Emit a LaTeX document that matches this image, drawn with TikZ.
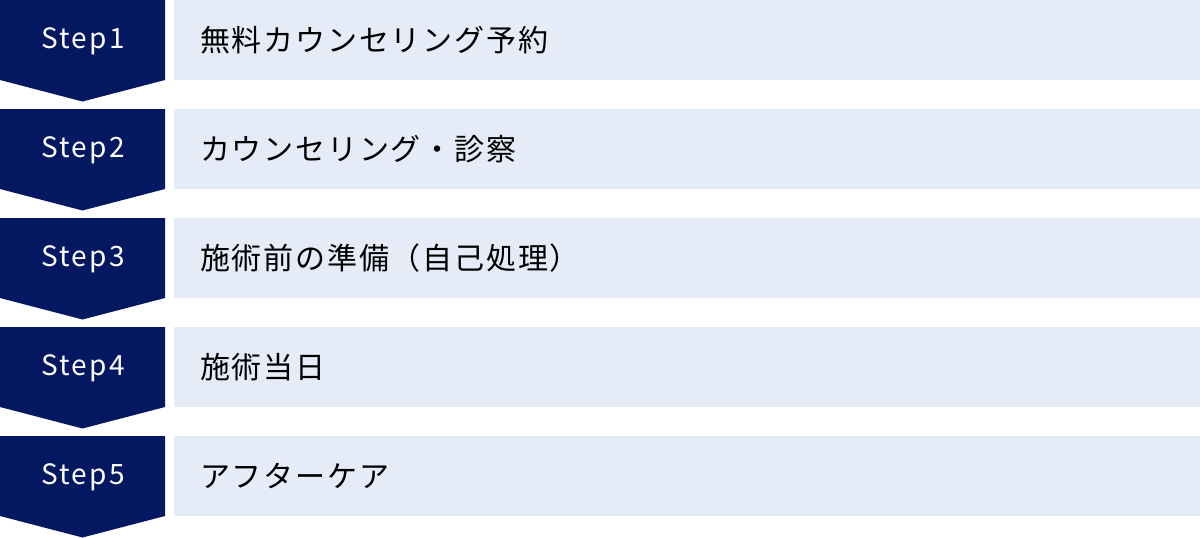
\documentclass[tikz,border=0pt]{standalone}
\usepackage{fontspec}
\newfontfamily\cjkstep[LetterSpace=8]{Noto Sans CJK JP}
\newfontfamily\cjktext[LetterSpace=6]{Noto Sans CJK JP}
\definecolor{navy}{HTML}{041862}
\definecolor{pale}{HTML}{E6EBF8}
\tikzset{
  stepshape/.style={fill=navy, draw=none},
  stepbg/.style={fill=pale, draw=none},
  steplabel/.style={text=white, font=\cjkstep\fontsize{28}{28}\selectfont, anchor=center, inner sep=0pt},
  steptext/.style={text=black, font=\cjktext\fontsize{30}{30}\selectfont, anchor=west, inner sep=0pt},
}
\begin{document}
\begin{tikzpicture}[x=1pt,y=-1pt]
\useasboundingbox (0,0) rectangle (1200,538);
\foreach \i/\t in {0/無料カウンセリング予約,1/カウンセリング・診察,2/施術前の準備（自己処理）,3/施術当日,4/アフターケア}{
  \pgfmathsetmacro{\yy}{\i*109}
  \fill[stepshape] (0,\yy) -- (165,\yy) -- (165,\yy+80) -- (82.5,\yy+101.5) -- (0,\yy+80) -- cycle;
  \fill[stepbg] (174,\yy) rectangle (1200,\yy+80);
  \pgfmathtruncatemacro{\n}{\i+1}
  \node[steplabel] (s\n) at (83,\yy+41) {Step\n};
  \node[steptext] (t\n) at (200,\yy+40) {\t};
}
\end{tikzpicture}
\end{document}
